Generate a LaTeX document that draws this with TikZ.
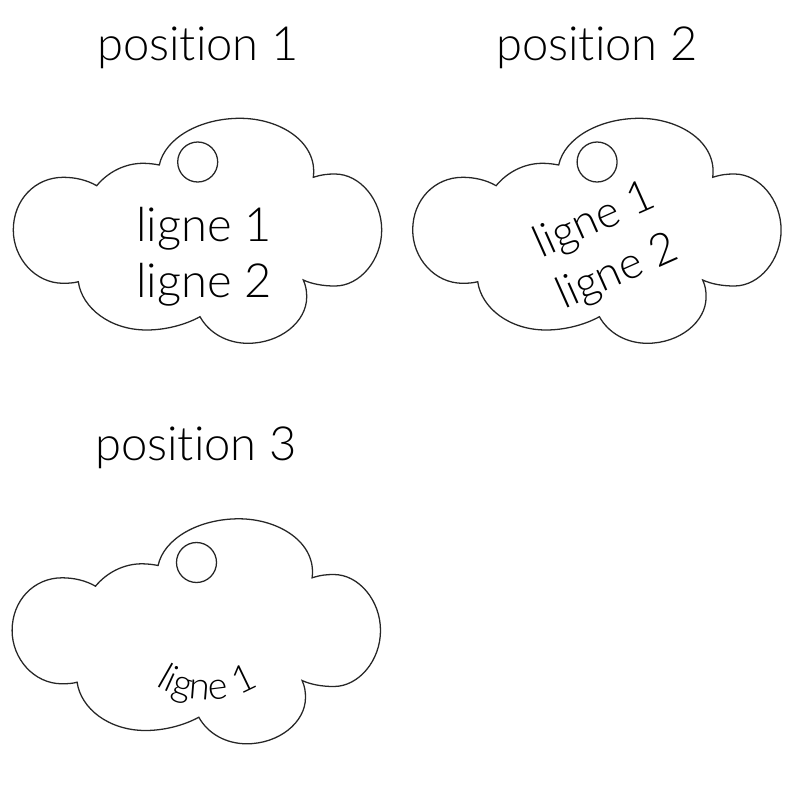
\documentclass[tikz,border=0pt]{standalone}
\usepackage{fontspec}
\setmainfont[Ligatures=NoCommon]{Lato Light}
\usepackage{xcolor}
\usetikzlibrary{decorations.text}

\begin{document}
\begin{tikzpicture}[
  x=0.25mm, y=-0.25mm,
  every node/.style={inner sep=0pt},
  title/.style={font=\fontsize{33.5}{40}\selectfont, anchor=center},
  label/.style={font=\fontsize{33.5}{40}\selectfont, align=left, anchor=center},
  outline/.style={draw=black!85, line width=0.32mm},
  cloud/.pic={
    \draw[outline] (159.3,65) .. controls (165,38) and (200,18.3) .. (240,18.3)
      .. controls (280,18.3) and (318,42) .. (313.3,77.3)
      .. controls (322,74.5) and (328,74) .. (335,74)
      .. controls (360,74) and (381.7,100) .. (381.7,130)
      .. controls (381.7,160) and (360,186) .. (335,186)
      .. controls (323,186) and (312,184) .. (303.3,180)
      .. controls (306,186) and (306.7,191) .. (306.7,197)
      .. controls (306.7,222) and (280,243.3) .. (248,243.3)
      .. controls (227,243.3) and (209,233) .. (200,216.7)
      .. controls (185,225) and (165,230) .. (146.7,230)
      .. controls (110,230) and (82,208) .. (78.3,181.7)
      .. controls (74,183) and (68,183.3) .. (63.3,183.3)
      .. controls (35,183.3) and (13.3,158) .. (13.3,130)
      .. controls (13.3,100) and (35,77.3) .. (63.3,77.3)
      .. controls (75,77.3) and (87,80) .. (96.7,85.7)
      .. controls (108,72) and (125,63.3) .. (143,63.3)
      .. controls (149,63.3) and (154,64) .. (159.3,65) -- cycle;
    \draw[outline] (197.7,62) circle (20);
  }
]
\useasboundingbox (0,0) rectangle (800,800);

% --- position 1 ---
\node[title] (title1) at (198,48) {position 1};
\pic at (0,100) {cloud};
\node[label] (text1) at (204,257) {ligne 1\\ligne 2};

% --- position 2 ---
\node[title] (title2) at (597,48) {position 2};
\pic at (399.4,100) {cloud};
\node[label, font=\fontsize{31.5}{40}\selectfont, rotate=24] (text2) at (606,247) {ligne 1\\ligne 2};

% --- position 3 ---
\node[title] (title3) at (196,448) {position 3};
\pic at (-1.2,500.5) {cloud};
\path[decorate, decoration={text along path, text align=center,
    text={|\fontsize{27}{32}\selectfont|ligne 1}}]
  (148,680) .. controls (180,705) and (230,708) .. (266,680);

\end{tikzpicture}
\end{document}
